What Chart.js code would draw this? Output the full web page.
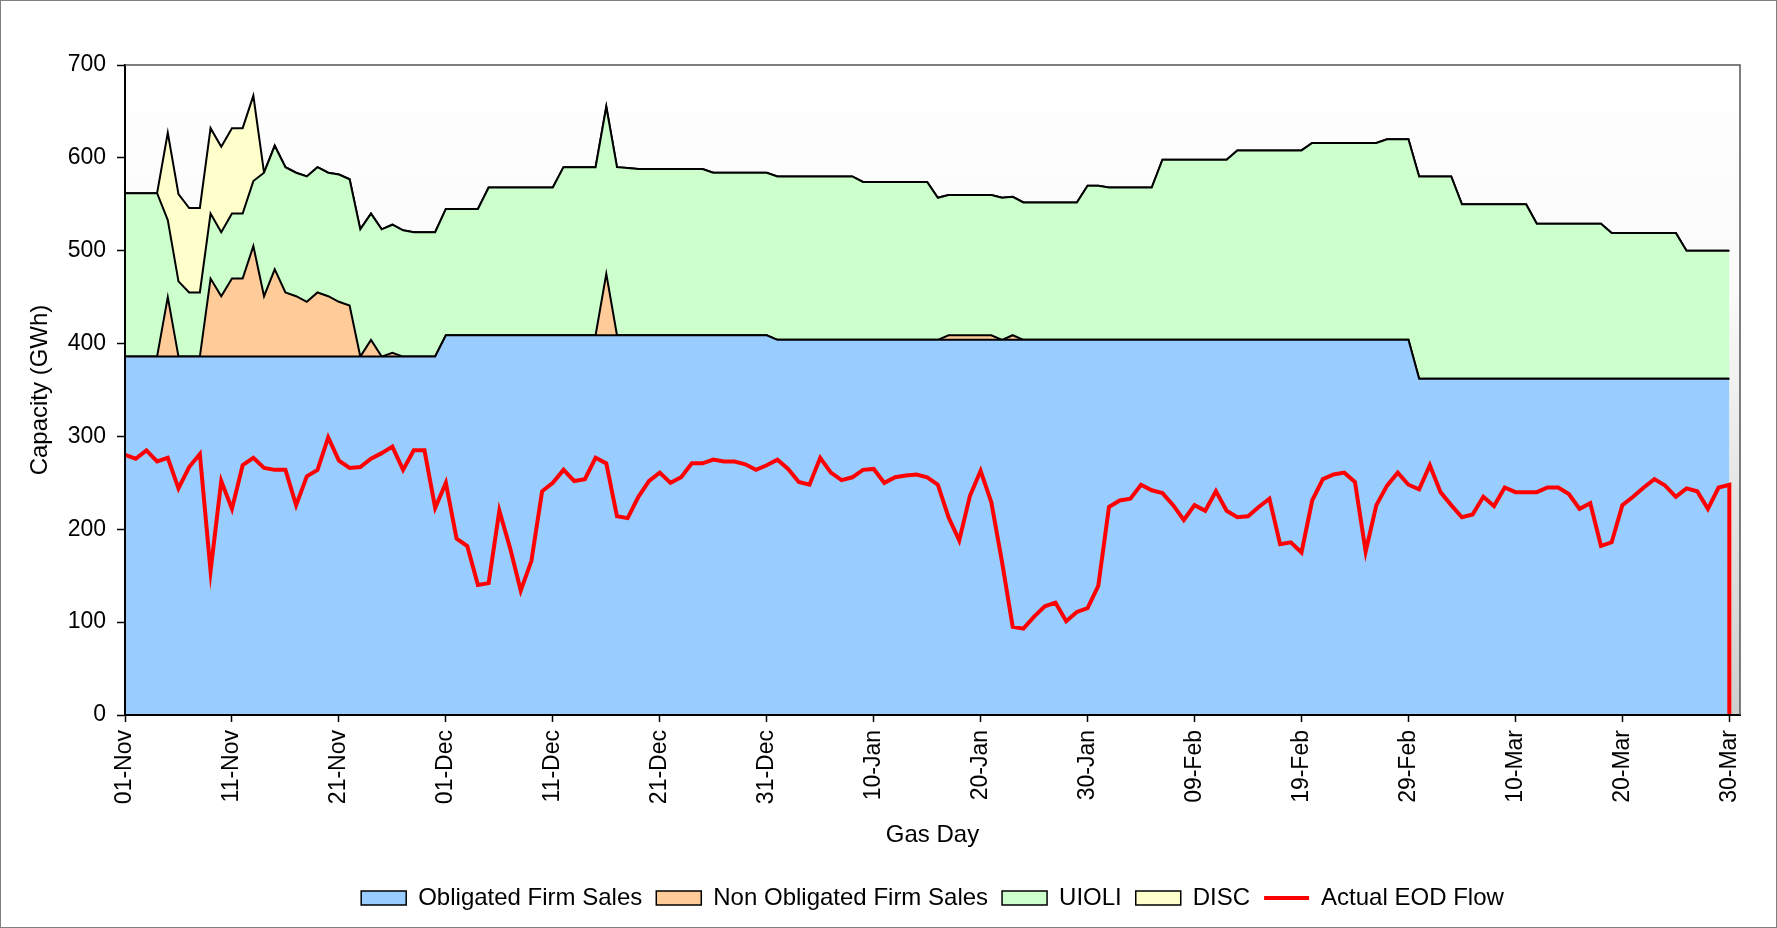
<!DOCTYPE html>
<html>
<head>
<meta charset="utf-8">
<script src="https://cdn.jsdelivr.net/npm/chart.js@4/dist/chart.umd.min.js"></script>
<style>
html, body { margin: 0; padding: 0; background: #fff; }
#wrap { width: 1777px; height: 928px; }
</style>
</head>
<body>
<div id="wrap"><canvas id="chart" width="1777" height="928"></canvas></div>
<script>
// gas days 01-Nov .. 30-Mar, one value per day (GWh)
const tickLabels = ["01-Nov","11-Nov","21-Nov","01-Dec","11-Dec","21-Dec","31-Dec","10-Jan",
  "20-Jan","30-Jan","09-Feb","19-Feb","29-Feb","10-Mar","20-Mar","30-Mar"]

const obligated = [
  386,386,386,386,386,386,386,386,386,386,386,386,386,386,386,386,386,386,386,386,386,386,386,386,386,386,386,386,386,386,
  409,409,409,409,409,409,409,409,409,409,409,409,409,409,409,409,409,409,409,409,409,409,409,409,409,409,409,409,409,409,409,
  404,404,404,404,404,404,404,404,404,404,404,404,404,404,404,404,404,404,404,404,404,404,404,404,404,404,404,404,404,404,404,
  404,404,404,404,404,404,404,404,404,404,404,404,404,404,404,404,404,404,404,404,404,404,404,404,404,404,404,404,404,
  362,362,362,362,362,362,362,362,362,362,362,362,362,362,362,362,362,362,362,362,362,362,362,362,362,362,362,362,362,362]

const nonObligated = [
  0,0,0,0,64,0,0,0,84,65,84,84,119,65,94,69,65,59,69,65,59,55,0,18,0,4,0,0,0,0,
  0,0,0,0,0,0,0,0,0,0,0,0,0,0,0,66,0,0,0,0,0,0,0,0,0,0,0,0,0,0,0,
  0,0,0,0,0,0,0,0,0,0,0,0,0,0,0,0,5,5,5,5,5,0,5,0,0,0,0,0,0,0,0,
  0,0,0,0,0,0,0,0,0,0,0,0,0,0,0,0,0,0,0,0,0,0,0,0,0,0,0,0,0,
  0,0,0,0,0,0,0,0,0,0,0,0,0,0,0,0,0,0,0,0,0,0,0,0,0,0,0,0,0,0]

const uioli = [
  176,176,176,176,83,81,69,69,70,69,70,70,70,133,133,135,133,135,135,133,137,136,137,136,137,138,136,134,134,134,
  136,136,136,136,159,159,159,159,159,159,159,181,181,181,181,180,181,180,179,179,179,179,179,179,179,175,175,175,175,175,175,
  176,176,176,176,176,176,176,176,170,170,170,170,170,170,170,153,151,151,151,151,151,153,149,148,148,148,148,148,148,166,166,
  164,164,164,164,164,194,194,194,194,194,194,194,204,204,204,204,204,204,204,212,212,212,212,212,212,212,216,216,216,
  218,218,218,218,188,188,188,188,188,188,188,167,167,167,167,167,167,167,157,157,157,157,157,157,157,138,138,138,138,138]

const disc = [
  0,0,0,0,94,94,91,91,92,92,92,92,92,0,0,0,0,0,0,0,0,0,0,0,0,0,0,0,0,0,
  0,0,0,0,0,0,0,0,0,0,0,0,0,0,0,0,0,0,0,0,0,0,0,0,0,0,0,0,0,0,0,
  0,0,0,0,0,0,0,0,0,0,0,0,0,0,0,0,0,0,0,0,0,0,0,0,0,0,0,0,0,0,0,
  0,0,0,0,0,0,0,0,0,0,0,0,0,0,0,0,0,0,0,0,0,0,0,0,0,0,0,0,0,
  0,0,0,0,0,0,0,0,0,0,0,0,0,0,0,0,0,0,0,0,0,0,0,0,0,0,0,0,0,0]

const eodFlow = [
  280,276,285,273,277,244,267,281,155,252,222,269,277,266,264,264,226,257,264,299,274,266,267,276,282,289,264,285,285,223,
  250,190,182,140,142,220,180,134,166,241,250,264,252,254,277,271,214,212,235,252,261,250,256,271,271,275,273,273,270,264,269,
  275,265,251,248,277,261,253,256,264,265,250,256,258,259,256,248,213,188,236,263,229,165,95,93,106,117,121,101,111,115,139,
  224,231,233,248,242,239,226,210,226,220,241,220,213,214,224,233,184,186,175,231,254,259,261,251,176,226,247,261,248,
  243,269,240,226,213,216,235,225,245,240,240,240,245,245,238,222,228,182,186,226,235,245,254,247,235,244,241,222,245,248]

const seriesNames = ["Obligated Firm Sales","Non Obligated Firm Sales","UIOLI","DISC","Actual EOD Flow"]
const seriesColors = ["#99ccff","#ffcc99","#ccffcc","#ffffcc","#ff0000"]

Chart.defaults.font.family = "'Liberation Sans', Arial, sans-serif"
Chart.defaults.color = "#000"

const toPts = arr => arr.map((v, i) => ({x: i, y: v}))

// flow line falls back to zero after the last gas day
let flowPts = toPts(eodFlow)
flowPts.push({x: eodFlow.length - 1, y: 0})

function area(idx, arr, fill) {
  return {
    label: seriesNames[idx],
    data: toPts(arr),
    backgroundColor: seriesColors[idx],
    borderColor: "#000",
    borderWidth: 2,
    fill: fill,
    stack: "cap",
    order: 1
  }
}

const chartBg = {
  id: "chartBg",
  beforeDraw(chart) {
    const {ctx, chartArea: a} = chart
    ctx.save()
    ctx.fillStyle = "#fff"
    ctx.fillRect(0, 0, chart.width, chart.height)
    const g = ctx.createLinearGradient(0, a.top, 0, a.bottom)
    g.addColorStop(0, "#ffffff")
    g.addColorStop(0.35, "#fafafa")
    g.addColorStop(1, "#cecece")
    ctx.fillStyle = g
    ctx.fillRect(a.left, a.top, a.right - a.left, a.bottom - a.top)
    ctx.restore()
  },
  afterLayout(chart) {
    // centre the legend under the plot area
    chart.legend.left = chart.chartArea.left
    chart.legend.right = chart.chartArea.right
  },
  afterDraw(chart) {
    const {ctx, chartArea: a} = chart
    ctx.save()
    ctx.strokeStyle = "#555"
    ctx.lineWidth = 1.5
    ctx.beginPath()
    ctx.moveTo(a.left, a.top)
    ctx.lineTo(a.right, a.top)
    ctx.lineTo(a.right, a.bottom)
    ctx.stroke()
    ctx.strokeStyle = "#808080"
    ctx.lineWidth = 1
    ctx.strokeRect(0.5, 0.5, chart.width - 1, chart.height - 1)
    ctx.restore()
  }
}

new Chart(document.getElementById("chart"), {
  type: "line",
  data: {
    datasets: [
      area(0, obligated, "origin"),
      area(1, nonObligated, "-1"),
      area(2, uioli, "-1"),
      area(3, disc, "-1"),
      {
        label: seriesNames[4],
        data: flowPts,
        borderColor: seriesColors[4],
        backgroundColor: seriesColors[4],
        borderWidth: 4,
        fill: false,
        stack: "flow",
        order: 0
      }
    ]
  },
  options: {
    responsive: false,
    animation: false,
    events: [],
    devicePixelRatio: 1,
    layout: {padding: {top: 65, right: 37, bottom: 8, left: 0}},
    elements: {point: {radius: 0}, line: {tension: 0}},
    scales: {
      x: {
        type: "linear",
        min: 0,
        max: 151,
        ticks: {
          stepSize: 10,
          includeBounds: false,
          autoSkip: false,
          minRotation: 90,
          maxRotation: 90,
          padding: 8,
          font: {size: 23},
          callback: v => tickLabels[v / 10]
        },
        grid: {drawOnChartArea: false, tickLength: 7, tickColor: "#000", tickWidth: 1.5},
        border: {color: "#000", width: 2, z: 1},
        title: {display: true, text: "Gas Day", font: {size: 24}, padding: {top: 0, bottom: 22}},
        afterFit(s) { s.height = 157 }
      },
      y: {
        stacked: true,
        min: 0,
        max: 700,
        ticks: {stepSize: 100, padding: 11, font: {size: 23}},
        grid: {drawOnChartArea: false, tickLength: 8, tickColor: "#000", tickWidth: 1.5},
        border: {color: "#000", width: 2, z: 1},
        title: {display: true, text: "Capacity (GWh)", font: {size: 24}, padding: {top: 26, bottom: 0}},
        afterFit(s) { s.width = 125 }
      }
    },
    plugins: {
      tooltip: {enabled: false},
      legend: {
        position: "bottom",
        labels: {
          usePointStyle: true,
          pointStyleWidth: 45,
          boxHeight: 14,
          padding: 14,
          font: {size: 24},
          generateLabels(chart) {
            return chart.data.datasets.map((ds, i) => ({
              text: ds.label,
              datasetIndex: i,
              fillStyle: ds.backgroundColor,
              strokeStyle: ds.fill === false ? ds.borderColor : "#000",
              lineWidth: ds.fill === false ? 4 : 1.5,
              pointStyle: ds.fill === false ? "line" : "rect",
              rotation: 0,
              hidden: false
            }))
          }
        }
      }
    }
  },
  plugins: [chartBg]
})
</script>
</body>
</html>
